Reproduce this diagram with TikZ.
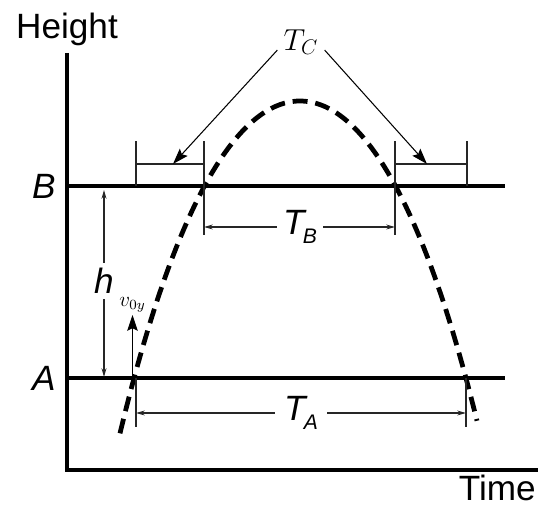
\documentclass[tikz,border=0pt]{standalone}
\usepackage{fontspec}
\setmainfont{Liberation Sans}
\usepackage{tikz}
\usetikzlibrary{arrows.meta}
\usetikzlibrary{positioning}

\newcommand{\sublbl}[1]{\kern-1pt\raisebox{-5pt}{\fontsize{12}{12}\selectfont #1}}

\begin{document}
\begin{tikzpicture}[>=stealth,
  axisline/.style={line width=2pt},
  thinline/.style={line width=0.6pt, black!85},
  dimarrow/.style={thinline, -{Stealth[length=5pt,width=2.8pt]}},
  pointer/.style={line width=0.6pt, -{Stealth[length=9pt,width=6pt,inset=1.5pt]}},
  flight/.style={line width=2.7pt, dash pattern=on 8.5pt off 4.5pt},
  biglabel/.style={font=\fontsize{20}{24}\selectfont, inner sep=0pt}]
  \useasboundingbox (-1.34,-0.76) rectangle (9.5,9.4);

  % ===== Axes =====
  \draw[axisline] (0,8.34) -- (0,0) -- (9.42,0);
  \node[biglabel, anchor=base] (height) at (0,8.62) {Height};
  \node[biglabel, anchor=base east] (time) at (9.38,-0.62) {Time};

  % Levels A and B
  \draw[axisline] (0,5.68) -- (8.76,5.68);
  \draw[axisline] (0,1.84) -- (8.76,1.84);
  \node[biglabel, anchor=east] (labB) at (-0.22,5.68) {\itshape B};
  \node[biglabel, anchor=east] (labA) at (-0.22,1.84) {\itshape A};

  % Trajectory
  \draw[flight]
    plot[domain=-3.6:3.54, samples=90, smooth]
    ({4.66+\x}, {7.38-0.448*\x*\x-0.005*\x*\x*\x*\x});

  % ===== T_C brackets =====
  \draw[thinline] (1.38,5.68) -- (1.38,6.58);
  \draw[thinline] (2.74,4.7) -- (2.74,6.58);
  \draw[thinline] (1.38,6.12) -- coordinate[pos=0.544] (cL) (2.74,6.12);
  \draw[thinline] (6.56,4.7) -- (6.56,6.58);
  \draw[thinline] (8.0,5.68) -- (8.0,6.58);
  \draw[thinline] (6.56,6.12) -- coordinate[pos=0.444] (cR) (8.0,6.12);
  \node[font=\fontsize{17.28}{20}\selectfont, inner xsep=0.12cm] (TC) at (4.68,8.56) {$T_C$};
  \draw[pointer] (TC.base west) -- (cL);
  \draw[pointer] (TC.base east) -- (cR);

  % ===== T_B =====
  \coordinate (tbL) at (2.74,4.86);
  \coordinate (tbR) at (6.56,4.86);
  \node[biglabel, inner xsep=0.12cm] (TB) at (4.66,4.86) {\itshape T\sublbl{B}};
  \draw[dimarrow] (TB) -- (tbL);
  \draw[dimarrow] (TB) -- (tbR);

  % ===== T_A =====
  \draw[thinline] (1.38,1.84) -- (1.38,0.86);
  \draw[thinline] (7.98,1.84) -- (7.98,0.86);
  \coordinate (taL) at (1.38,1.14);
  \coordinate (taR) at (7.98,1.14);
  \node[biglabel, inner xsep=0.18cm] (TA) at (4.68,1.14) {\itshape T\sublbl{A}};
  \draw[dimarrow] (TA) -- (taL);
  \draw[dimarrow] (TA) -- (taR);

  % ===== h =====
  \coordinate (hT) at (0.74,5.6);
  \coordinate (hB) at (0.74,1.86);
  \node[biglabel, inner ysep=0.1cm] (hlab) at (0.74,3.78) {\itshape h};
  \draw[dimarrow] (hlab) -- (hT);
  \draw[dimarrow] (hlab) -- (hB);

  % ===== v_0y =====
  \coordinate (vB) at (1.31,1.84);
  \coordinate (vT) at (1.31,3.1);
  \draw[pointer] (vB) -- (vT) node[above, inner sep=1pt, font=\fontsize{12}{14}\selectfont] (v0y) {$v_{0y}$};
\end{tikzpicture}
\end{document}
